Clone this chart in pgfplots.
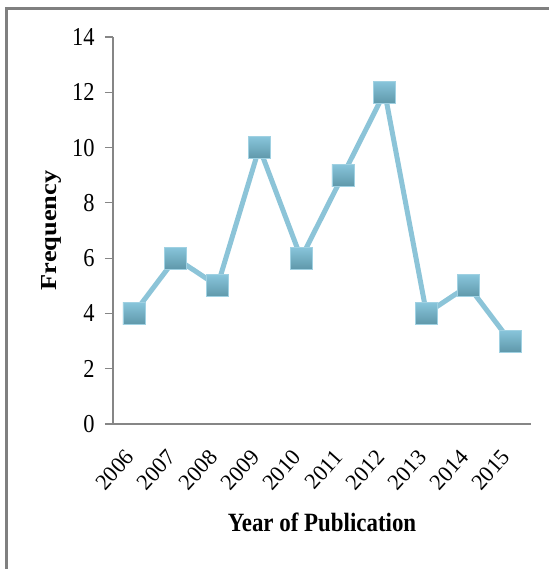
\documentclass[border=0pt]{standalone}
\usepackage{fontspec}
\setmainfont{Liberation Serif}
\usepackage{graphicx}
\usepackage{pgfplots}
\pgfplotsset{compat=1.18}
\definecolor{lineblue}{HTML}{8CC4D8}
\definecolor{mtop}{HTML}{88C5DB}
\definecolor{mbot}{HTML}{5F98AA}
\definecolor{axgray}{HTML}{868686}
\definecolor{framegray}{HTML}{808080}
\pgfdeclareplotmark{bsq}{%
  \shade[top color=mtop,bottom color=mbot,draw=mtop!80!white,line width=0.6bp]
    (-\pgfplotmarksize,-\pgfplotmarksize) rectangle (\pgfplotmarksize,\pgfplotmarksize);%
}
\begin{document}
\begin{tikzpicture}
\useasboundingbox (-113bp,-145bp) rectangle (436bp,424bp);
\begin{scope}
\clip (-113bp,-145bp) rectangle (436bp,424bp);
\draw[framegray, line width=2.6bp] (-106.5bp,-300bp) -- (-106.5bp,415.5bp) -- (600bp,415.5bp);
\end{scope}
\begin{axis}[
  at={(0,0)}, anchor=south west,
  scale only axis, width=418bp, height=387bp,
  xmin=-0.5, xmax=9.5, ymin=0, ymax=14,
  axis x line*=bottom, axis y line*=left,
  axis line style={axgray, line width=1.2bp},
  xtick={0,...,9},
  xticklabels={2006,2007,2008,2009,2010,2011,2012,2013,2014,2015},
  ytick={0,2,...,14},
  yticklabel={\scalebox{1}[1.15]{\pgfmathprintnumber{\tick}}},
  tick align=outside,
  major tick length=8bp,
  y tick style={axgray, line width=1.2bp},
  x tick style={draw=none},
  tick label style={font=\fontsize{22.5}{24}\selectfont},
  /pgf/number format/assume math mode=true,
  yticklabel style={xshift=-7bp},
  xticklabel style={font=\fontsize{22.5}{24}\selectfont, rotate=48, anchor=east, xshift=-15bp, yshift=-11bp},
  clip=false,
]
\addplot[lineblue, line width=5bp, mark=bsq, mark size=11bp, mark options={solid}] coordinates {
  (0,4) (1,6) (2,5) (3,10) (4,6) (5,9) (6,12) (7,4) (8,5) (9,3)
};
\end{axis}
\node[rotate=90, font=\fontsize{23}{26}\selectfont\bfseries] at (-62bp,193.5bp) {\scalebox{1.15}[1]{Frequency}};
\node[font=\fontsize{23}{26}\selectfont\bfseries] at (209bp,-98bp) {\scalebox{1}[1.15]{Year of Publication}};
\end{tikzpicture}
\end{document}
